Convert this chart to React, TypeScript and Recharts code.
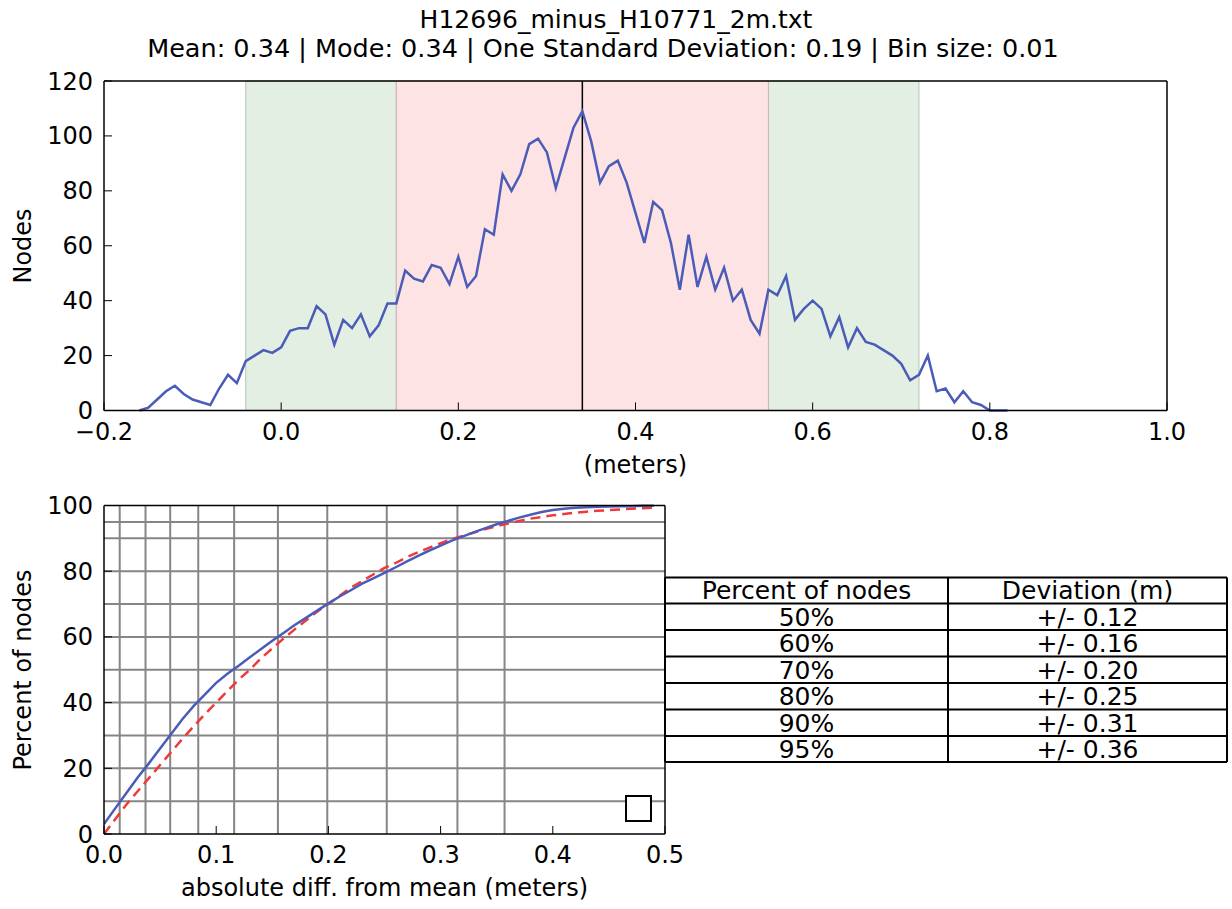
import React from "react";
import { LineChart, Line, XAxis, YAxis, ReferenceArea, ReferenceLine } from "recharts";

// ---------- Histogram (top) ----------
const histBins = [
  -0.16, -0.15, -0.14, -0.13, -0.12, -0.11, -0.1, -0.09, -0.08, -0.07,
  -0.06, -0.05, -0.04, -0.03, -0.02, -0.01, 0.0, 0.01, 0.02, 0.03,
  0.04, 0.05, 0.06, 0.07, 0.08, 0.09, 0.1, 0.11, 0.12, 0.13,
  0.14, 0.15, 0.16, 0.17, 0.18, 0.19, 0.2, 0.21, 0.22, 0.23,
  0.24, 0.25, 0.26, 0.27, 0.28, 0.29, 0.3, 0.31, 0.32, 0.33,
  0.34, 0.35, 0.36, 0.37, 0.38, 0.39, 0.4, 0.41, 0.42, 0.43,
  0.44, 0.45, 0.46, 0.47, 0.48, 0.49, 0.5, 0.51, 0.52, 0.53,
  0.54, 0.55, 0.56, 0.57, 0.58, 0.59, 0.6, 0.61, 0.62, 0.63,
  0.64, 0.65, 0.66, 0.67, 0.68, 0.69, 0.7, 0.71, 0.72, 0.73,
  0.74, 0.75, 0.76, 0.77, 0.78, 0.79, 0.8, 0.81, 0.82,
];
const histCounts = [
  0, 1, 4, 7, 9, 6, 4, 3, 2, 8,
  13, 10, 18, 20, 22, 21, 23, 29, 30, 30,
  38, 35, 24, 33, 30, 35, 27, 31, 39, 39,
  51, 48, 47, 53, 52, 46, 56, 45, 49, 66,
  64, 86, 80, 86, 97, 99, 94, 81, 92, 103,
  109, 98, 83, 89, 91, 83, 72, 61, 76, 73,
  61, 44, 64, 45, 56, 44, 52, 40, 44, 33,
  28, 44, 42, 49, 33, 37, 40, 37, 27, 34,
  23, 30, 25, 24, 22, 20, 17, 11, 13, 20,
  7, 8, 3, 7, 3, 2, 0, 0, 0,
];
const histXTicks = [-0.2, 0, 0.2, 0.4, 0.6, 0.8, 1.0];
const histYTicks = [0, 20, 40, 60, 80, 100, 120];
const meanValue = 0.34;
const oneSigmaBand = [0.13, 0.55];
const twoSigmaBandLow = [-0.04, 0.13];
const twoSigmaBandHigh = [0.55, 0.72];

// ---------- Cumulative (bottom) ----------
const cdfDeviation = [
  0.0, 0.01, 0.02, 0.03, 0.04, 0.05, 0.06, 0.07, 0.08, 0.09,
  0.1, 0.11, 0.12, 0.13, 0.14, 0.15, 0.16, 0.17, 0.18, 0.19,
  0.2, 0.21, 0.22, 0.23, 0.24, 0.25, 0.26, 0.27, 0.28, 0.29,
  0.3, 0.31, 0.32, 0.33, 0.34, 0.35, 0.36, 0.37, 0.38, 0.39,
  0.4, 0.41, 0.42, 0.43, 0.44, 0.45, 0.46, 0.47, 0.48, 0.49,
];
const cdfObserved = [
  3, 7.8, 12.5, 17.2, 21.5, 26, 30.5, 35, 39, 42.5,
  46, 48.8, 51.2, 53.8, 56.3, 58.8, 61.2, 63.6, 65.8, 68,
  70.2, 72.3, 74.2, 76.2, 77.8, 79.5, 81.2, 83, 84.7, 86.3,
  87.8, 89.3, 90.6, 91.9, 93.1, 94.3, 95.3, 96.3, 97.2, 98,
  98.6, 99, 99.3, 99.5, 99.6, 99.7, 99.8, 99.8, 99.9, 99.9,
];
const cdfNormal = [
  0, 4.5, 9, 13, 17, 21, 25, 29, 32.8, 36.5,
  40, 43.5, 47, 50, 53.5, 56.5, 59.5, 62.3, 65, 67.7,
  70, 72.5, 75, 77, 79, 81, 82.5, 84.3, 85.8, 87.2,
  88.5, 89.8, 90.8, 91.8, 92.8, 93.7, 94.5, 95.3, 96, 96.5,
  97, 97.4, 97.8, 98.1, 98.4, 98.6, 98.8, 99, 99.2, 99.3,
];
const cdfXTicks = [0, 0.1, 0.2, 0.3, 0.4, 0.5];
const cdfYTicks = [0, 20, 40, 60, 80, 100];
const gridPercents = [10, 20, 30, 40, 50, 60, 70, 80, 90, 95];
const gridDeviations = [0.014, 0.037, 0.059, 0.084, 0.116, 0.155, 0.199, 0.252, 0.315, 0.357];

// ---------- Table ----------
const tableHeader = ["Percent of nodes", "Deviation (m)"];
const tablePercents = ["50%", "60%", "70%", "80%", "90%", "95%"];
const tableDeviations = ["+/- 0.12", "+/- 0.16", "+/- 0.20", "+/- 0.25", "+/- 0.31", "+/- 0.36"];

const titleLine1 = "H12696_minus_H10771_2m.txt";
const titleLine2 = "Mean: 0.34 | Mode: 0.34 | One Standard Deviation: 0.19 | Bin size: 0.01";

const FONT = "'DejaVu Sans', sans-serif";
const BLUE = "#4b5cb8";
const RED = "#f03a3a";
const tickStyle = { fontSize: 24, fill: "#000", fontFamily: FONT };
const axisLineStyle = { stroke: "#000", strokeWidth: 1.5 };
const tickLineStyle = { stroke: "#000", strokeWidth: 1 };

const fmt1 = (v: number) => (v < 0 ? "\u2212" + Math.abs(v).toFixed(1) : v.toFixed(1));
const fmt0 = (v: number) => String(v);

const histData = histBins.map((x, i) => ({ x, count: histCounts[i] }));
const cdfData = cdfDeviation.map((x, i) => ({ x, observed: cdfObserved[i], normal: cdfNormal[i] }));

const tableCols = [665, 948, 1227];
const tableRows = [577.5, 603.5, 630, 656.5, 683, 709.5, 736, 762];

export default function App() {
  return (
    <div style={{ position: "absolute", left: 0, top: 0, width: 1232, height: 909, background: "#fff", fontFamily: FONT }}>
      <div style={{ position: "absolute", left: 0, top: 0 }}>
        <LineChart width={1232} height={480} data={histData} margin={{ top: 80, right: 64, bottom: 0, left: 0 }}>
          <ReferenceArea xAxisId="b" yAxisId="l" x1={twoSigmaBandLow[0]} x2={twoSigmaBandLow[1]} y1={0} y2={120} fill="#e3efe3" fillOpacity={1} stroke="#b8c2b8" strokeWidth={1} />
          <ReferenceArea xAxisId="b" yAxisId="l" x1={twoSigmaBandHigh[0]} x2={twoSigmaBandHigh[1]} y1={0} y2={120} fill="#e3efe3" fillOpacity={1} stroke="#b8c2b8" strokeWidth={1} />
          <ReferenceArea xAxisId="b" yAxisId="l" x1={oneSigmaBand[0]} x2={oneSigmaBand[1]} y1={0} y2={120} fill="#fde3e4" fillOpacity={1} stroke="#c8b4b4" strokeWidth={1} />
          <ReferenceLine xAxisId="b" yAxisId="l" x={meanValue} stroke="#000" strokeWidth={1.5} />
          <XAxis xAxisId="b" dataKey="x" type="number" domain={[-0.2, 1]} ticks={histXTicks} allowDataOverflow height={69.5}
            tickSize={-8} tickMargin={20} tick={tickStyle} tickFormatter={fmt1} axisLine={axisLineStyle} tickLine={tickLineStyle} interval={0} />
          <XAxis xAxisId="t" orientation="top" dataKey="x" type="number" domain={[-0.2, 1]} ticks={histXTicks} allowDataOverflow height={1}
            tickSize={-8} tick={false} axisLine={axisLineStyle} tickLine={tickLineStyle} interval={0} />
          <YAxis yAxisId="l" type="number" domain={[0, 120]} ticks={histYTicks} width={104} tickSize={-8} tickMargin={19}
            tick={tickStyle} tickFormatter={fmt0} axisLine={axisLineStyle} tickLine={tickLineStyle} interval={0} />
          <YAxis yAxisId="r" orientation="right" type="number" domain={[0, 120]} ticks={histYTicks} width={1} tickSize={-8}
            tick={false} axisLine={axisLineStyle} tickLine={tickLineStyle} interval={0} />
          <Line xAxisId="b" yAxisId="l" dataKey="count" type="linear" stroke={BLUE} strokeWidth={2.5} dot={false} isAnimationActive={false} />
        </LineChart>
      </div>

      <div style={{ position: "absolute", left: 0, top: 480 }}>
        <LineChart width={700} height={429} data={cdfData} margin={{ top: 24.5, right: 34, bottom: 0, left: 0 }}>
          {gridPercents.map((p) => (
            <ReferenceLine key={"h" + p} xAxisId="b" yAxisId="l" y={p} stroke="#868686" strokeWidth={2} />
          ))}
          {gridDeviations.map((d) => (
            <ReferenceLine key={"v" + d} xAxisId="b" yAxisId="l" x={d} stroke="#868686" strokeWidth={2} />
          ))}
          <XAxis xAxisId="b" dataKey="x" type="number" domain={[0, 0.5]} ticks={cdfXTicks} allowDataOverflow height={75}
            tickSize={-8} tickMargin={20} tick={tickStyle} tickFormatter={fmt1} axisLine={axisLineStyle} tickLine={tickLineStyle} interval={0} />
          <XAxis xAxisId="t" orientation="top" dataKey="x" type="number" domain={[0, 0.5]} ticks={cdfXTicks} allowDataOverflow height={1}
            tickSize={-8} tick={false} axisLine={axisLineStyle} tickLine={tickLineStyle} interval={0} />
          <YAxis yAxisId="l" type="number" domain={[0, 100]} ticks={cdfYTicks} width={104} tickSize={-8} tickMargin={19}
            tick={tickStyle} tickFormatter={fmt0} axisLine={axisLineStyle} tickLine={tickLineStyle} interval={0} />
          <YAxis yAxisId="r" orientation="right" type="number" domain={[0, 100]} ticks={cdfYTicks} width={1} tickSize={-8}
            tick={false} axisLine={axisLineStyle} tickLine={tickLineStyle} interval={0} />
          <Line xAxisId="b" yAxisId="l" dataKey="normal" type="linear" stroke={RED} strokeWidth={2.5} strokeDasharray="10 6" dot={false} isAnimationActive={false} />
          <Line xAxisId="b" yAxisId="l" dataKey="observed" type="linear" stroke={BLUE} strokeWidth={2.5} dot={false} isAnimationActive={false} />
        </LineChart>
      </div>

      <svg width={1232} height={909} style={{ position: "absolute", left: 0, top: 0, pointerEvents: "none" }} fontFamily={FONT}>
        <text x={616} y={28} textAnchor="middle" fontSize={25} fill="#000">{titleLine1}</text>
        <text x={603} y={57} textAnchor="middle" fontSize={25.5} fill="#000">{titleLine2}</text>
        <text x={31} y={246} textAnchor="middle" fontSize={24} fill="#000" transform="rotate(-90 31 246)">Nodes</text>
        <text x={635.5} y={473} textAnchor="middle" fontSize={24} fill="#000">(meters)</text>
        <text x={31} y={670} textAnchor="middle" fontSize={24} fill="#000" transform="rotate(-90 31 670)">Percent of nodes</text>
        <text x={384.5} y={896} textAnchor="middle" fontSize={24} fill="#000">absolute diff. from mean (meters)</text>
        <rect x={626} y={796} width={25} height={25} fill="#fff" stroke="#000" strokeWidth={2} />

        <rect x={tableCols[0]} y={tableRows[0]} width={tableCols[2] - tableCols[0]} height={tableRows[tableRows.length - 1] - tableRows[0]} fill="#fff" />
        {tableRows.map((y, i) => (
          <line key={"tr" + i} x1={tableCols[0]} x2={tableCols[2]} y1={y} y2={y} stroke="#000" strokeWidth={2} />
        ))}
        {tableCols.map((x, i) => (
          <line key={"tc" + i} x1={x} x2={x} y1={tableRows[0]} y2={tableRows[tableRows.length - 1]} stroke="#000" strokeWidth={2} />
        ))}
        <text x={(tableCols[0] + tableCols[1]) / 2} y={tableRows[1] - 4.5} textAnchor="middle" fontSize={25} fill="#000">{tableHeader[0]}</text>
        <text x={(tableCols[1] + tableCols[2]) / 2} y={tableRows[1] - 4.5} textAnchor="middle" fontSize={25} fill="#000">{tableHeader[1]}</text>
        {tablePercents.map((p, i) => (
          <text key={"p" + i} x={(tableCols[0] + tableCols[1]) / 2} y={tableRows[i + 2] - 4.5} textAnchor="middle" fontSize={25} fill="#000">{p}</text>
        ))}
        {tableDeviations.map((d, i) => (
          <text key={"d" + i} x={(tableCols[1] + tableCols[2]) / 2} y={tableRows[i + 2] - 4.5} textAnchor="middle" fontSize={25} fill="#000">{d}</text>
        ))}
      </svg>
    </div>
  );
}
